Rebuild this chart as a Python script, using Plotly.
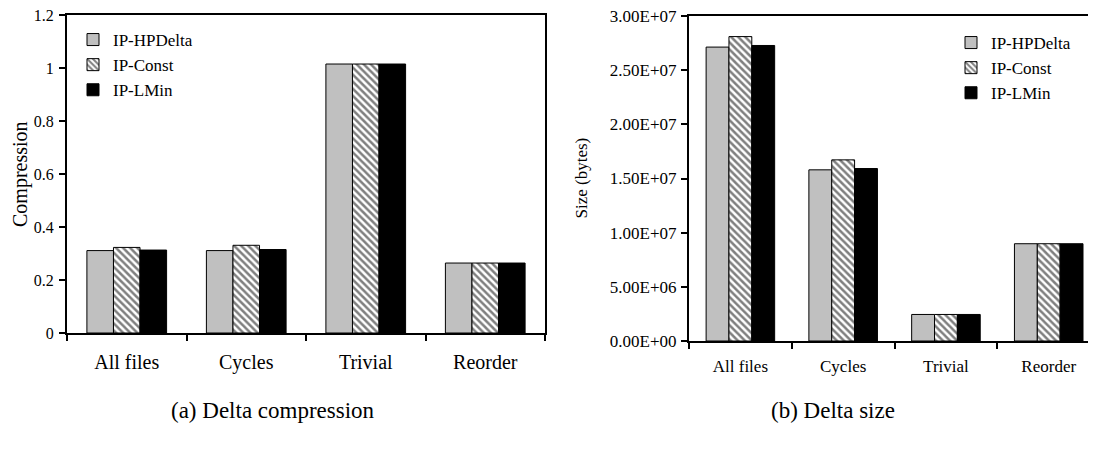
import plotly.graph_objects as go

categories = ["All files", "Cycles", "Trivial", "Reorder"]
series_names = ["IP-HPDelta", "IP-Const", "IP-LMin"]

# (a) Delta compression
compression_hpdelta = [0.311, 0.311, 1.015, 0.264]
compression_const = [0.323, 0.331, 1.015, 0.264]
compression_lmin = [0.313, 0.315, 1.015, 0.264]

# (b) Delta size (bytes)
size_hpdelta = [2.713e7, 1.580e7, 2.45e6, 8.98e6]
size_const = [2.810e7, 1.672e7, 2.45e6, 8.98e6]
size_lmin = [2.728e7, 1.592e7, 2.45e6, 8.98e6]

size_tickvals = [0, 5e6, 1e7, 1.5e7, 2e7, 2.5e7, 3e7]
size_ticktext = ["0.00E+00", "5.00E+06", "1.00E+07", "1.50E+07", "2.00E+07", "2.50E+07", "3.00E+07"]

SERIF = "Liberation Serif"
OFF = 8  # default page body margin
W, H = 1088, 442

styles = [
    dict(color="#C0C0C0", pattern=dict(shape="")),
    dict(color="white", pattern=dict(shape="\\", fgcolor="black", bgcolor="white", size=5, solidity=0.5, fillmode="overlay")),
    dict(color="black", pattern=dict(shape="")),
]

fig = go.Figure()

left_data = [compression_hpdelta, compression_const, compression_lmin]
right_data = [size_hpdelta, size_const, size_lmin]

for name, vals, st in zip(series_names, left_data, styles):
    fig.add_trace(go.Bar(
        x=categories, y=vals, name=name, xaxis="x", yaxis="y", legend="legend",
        marker=dict(color=st["color"], pattern=st["pattern"], line=dict(color="black", width=1)),
    ))
for name, vals, st in zip(series_names, right_data, styles):
    fig.add_trace(go.Bar(
        x=categories, y=vals, name=name, xaxis="x2", yaxis="y2", legend="legend2",
        marker=dict(color=st["color"], pattern=st["pattern"], line=dict(color="black", width=1)),
    ))

def px_x(p):
    return (p - OFF) / W

def px_y(p):
    return 1 - (p - OFF) / H

# plot areas (page pixels)
L_x0, L_x1, L_y0, L_y1 = 67, 545, 15, 333
R_x0, R_x1, R_y0, R_y1 = 689, 1096, 16, 341

common_x = dict(
    type="category", showgrid=False, showline=True, linecolor="black", linewidth=2,
    ticks="outside", tickson="boundaries", ticklen=6, tickwidth=1.5, tickcolor="black",
    mirror=True, automargin=False, zeroline=False, ticklabeloverflow="allow",
)
common_y = dict(
    showgrid=False, showline=True, linecolor="black", linewidth=2,
    ticks="outside", ticklen=6, tickwidth=1.5, tickcolor="black",
    automargin=False, zeroline=False, ticklabeloverflow="allow",
)

fig.update_layout(
    width=W, height=H,
    margin=dict(l=0, r=0, t=0, b=0),
    paper_bgcolor="white", plot_bgcolor="white",
    barmode="group", bargap=0.333, bargroupgap=0,
    font=dict(family=SERIF, color="black"),
    xaxis=dict(**common_x, domain=[px_x(L_x0), px_x(L_x1)], anchor="y",
               ticklabelstandoff=10,
               tickfont=dict(family=SERIF, size=20), range=[-0.5, 3.5]),
    yaxis=dict(**common_y, domain=[px_y(L_y1), px_y(L_y0)], anchor="x",
               range=[0, 1.2], dtick=0.2, mirror=True, ticklabelstandoff=2,
               tickfont=dict(family=SERIF, size=16)),
    xaxis2=dict(**common_x, domain=[px_x(R_x0), px_x(R_x1)], anchor="y2",
                ticklabelstandoff=9,
                tickfont=dict(family=SERIF, size=17), range=[-0.5, 3.46]),
    yaxis2=dict(**common_y, domain=[px_y(R_y1), px_y(R_y0)], anchor="x2",
                range=[0, 3e7], tickvals=size_tickvals, ticktext=size_ticktext,
                mirror=False, ticklabelstandoff=1, tickfont=dict(family=SERIF, size=17)),
    legend=dict(x=px_x(73), y=px_y(22), xanchor="left", yanchor="top",
                font=dict(family=SERIF, size=17), bgcolor="rgba(0,0,0,0)",
                tracegroupgap=0, itemwidth=30),
    legend2=dict(x=px_x(951), y=px_y(25), xanchor="left", yanchor="top",
                 font=dict(family=SERIF, size=17), bgcolor="rgba(0,0,0,0)",
                 tracegroupgap=0, itemwidth=30),
    showlegend=True,
    annotations=[
        dict(text="Compression", x=px_x(20), y=px_y((L_y0 + L_y1) / 2), xref="paper", yref="paper",
             textangle=-90, showarrow=False, font=dict(family=SERIF, size=20), xanchor="center", yanchor="middle"),
        dict(text="Size (bytes)", x=px_x(581), y=px_y((R_y0 + R_y1) / 2), xref="paper", yref="paper",
             textangle=-90, showarrow=False, font=dict(family=SERIF, size=17), xanchor="center", yanchor="middle"),
        dict(text="(a) Delta compression", x=px_x(273), y=px_y(410), xref="paper", yref="paper",
             showarrow=False, font=dict(family=SERIF, size=23), xanchor="center", yanchor="middle"),
        dict(text="(b) Delta size", x=px_x(833), y=px_y(410), xref="paper", yref="paper",
             showarrow=False, font=dict(family=SERIF, size=23), xanchor="center", yanchor="middle"),
    ],
)

fig.write_html("out.html")
